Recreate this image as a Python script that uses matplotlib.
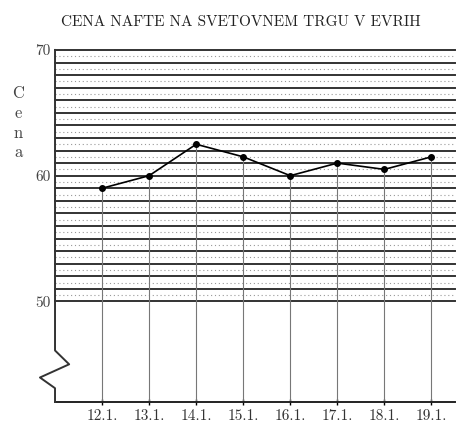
import numpy as np
import matplotlib.pyplot as plt

# data
days = ["12.1.", "13.1.", "14.1.", "15.1.", "16.1.", "17.1.", "18.1.", "19.1."]
price = [59, 60, 62.5, 61.5, 60, 61, 60.5, 61.5]
y_ticks = [50, 60, 70]

plt.rcParams['font.family'] = ['cmr10', 'DejaVu Serif']
plt.rcParams['axes.formatter.use_mathtext'] = True

fig = plt.figure(figsize=(4.6, 4.32), dpi=100)
ax = fig.add_axes([0.1196, 0.0694, 0.8694, 0.815])

x = np.arange(1, len(days) + 1)
ax.set_xlim(0, len(days) + 0.5)
ax.set_ylim(42, 70)

# grid: solid every unit, dotted on halves
for v in np.arange(50, 70.01, 1):
    ax.axhline(v, color='#333333', lw=1.4, zorder=1, clip_on=False)
for v in np.arange(50.5, 70, 1):
    ax.axhline(v, color='#999999', lw=0.8, ls=(0, (1, 2.5)), zorder=1)

# drop lines to the points
ax.vlines(x, 42, price, color='#777777', lw=0.8, zorder=2)
ax.plot(x, price, color='black', lw=1.2, marker='o', ms=4, zorder=3)

# left axis with break
sx = [0, 0, 0.3, -0.32, 0, 0]
sy = [70, 46.1, 45.0, 43.95, 43.1, 42]
ax.plot(sx, sy, color='#333333', lw=1.4, clip_on=False, zorder=4)

for s in ['left', 'top', 'right']:
    ax.spines[s].set_visible(False)
ax.spines['bottom'].set_linewidth(1.4)
ax.spines['bottom'].set_color('#222222')

ax.set_xticks(x)
ax.set_xticklabels(days, fontsize=11, color='#333333')
ax.tick_params(axis='x', direction='inout', length=5, width=1, pad=3)
ax.set_yticks(y_ticks)
ax.set_yticklabels([str(t) for t in y_ticks], fontsize=11, color='#444444')
ax.tick_params(axis='y', length=0, pad=3)

fig.text(0.524, 0.949, "CENA NAFTE NA SVETOVNEM TRGU V EVRIH", ha='center', va='center',
         fontsize=11, color='#222222')
fig.text(0.04, 0.715, "C\ne\nn\na", ha='center', va='center', fontsize=12,
         color='#444444', linespacing=1.35)

fig.savefig('out.png', dpi=100)
